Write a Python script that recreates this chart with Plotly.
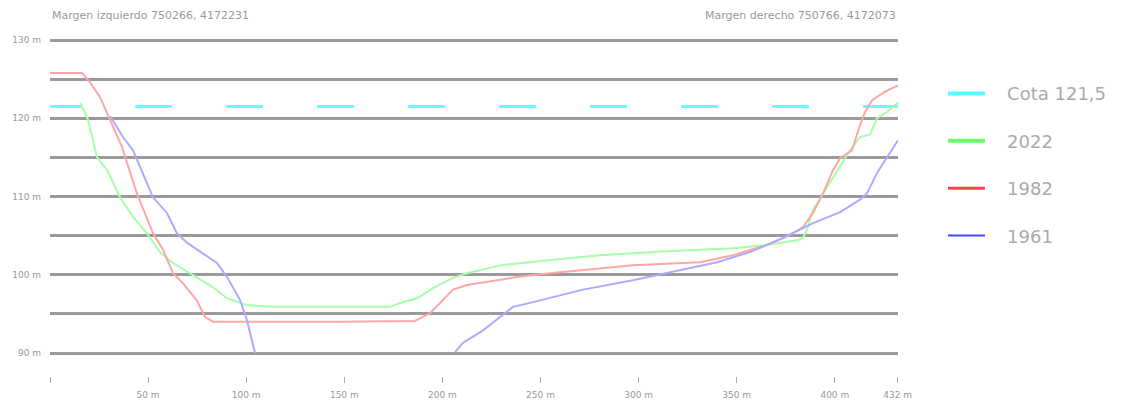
import plotly.graph_objects as go

# Cross-section profile of the channel (distance in m, elevation in m)
dist_1982 = [0, 16.3, 20.4, 25.5, 30.6, 36.7, 44.3, 52.5, 57.6, 62.7, 67.8, 74.9, 79.0, 83.1,
             147.8, 186.0, 193.7, 205.4, 212.5, 238.0, 254.8, 297.1, 331.3, 348.1, 365.4,
             377.2, 383.8, 388.9, 394.0, 399.1, 402.7, 408.8, 412.8, 415.4, 419.0, 425.6, 432.2]
elev_1982 = [125.8, 125.8, 124.6, 122.7, 119.8, 116.3, 110.4, 105.3, 103.2, 100.2, 98.9, 96.7, 94.6, 94.0,
             94.0, 94.1, 95.1, 98.1, 98.7, 99.7, 100.2, 101.2, 101.6, 102.5, 103.8,
             105.1, 106.1, 107.9, 110.4, 113.4, 114.9, 115.9, 119.1, 120.8, 122.3, 123.4, 124.2]

dist_2022 = [15.3, 19.4, 24.0, 29.1, 35.7, 42.3, 49.4, 56.1, 62.7, 72.9, 83.1, 90.2, 100.4, 113.7,
             173.3, 178.4, 187.1, 195.2, 205.4, 212.5, 229.4, 254.8, 280.3, 314.5, 348.1,
             365.4, 380.7, 383.8, 385.8, 388.9, 395.0, 401.6, 407.7, 412.8, 417.9, 421.5, 426.6, 432.2]
elev_2022 = [122.0, 119.8, 115.0, 113.4, 109.9, 107.4, 105.3, 102.9, 101.5, 100.0, 98.4, 97.0, 96.1, 95.9,
             95.9, 96.4, 97.0, 98.3, 99.6, 100.2, 101.2, 101.9, 102.5, 103.0, 103.4,
             103.8, 104.4, 104.7, 105.7, 108.3, 110.8, 113.4, 115.9, 117.6, 117.9, 120.0, 120.8, 122.0]

# 1961 profile drops below the lower axis limit between ~105 m and ~206 m
dist_1961 = [30.6, 37.2, 42.3, 45.9, 52.5, 59.6, 64.7, 69.8, 80.0, 85.1, 90.2, 96.8, 100.4, 104.5,
             None,
             206.4, 210.5, 220.7, 236.0, 246.2, 271.7, 297.1, 314.5, 340.0, 356.8, 373.6,
             388.9, 402.7, 412.8, 416.4, 421.5, 426.6, 432.2]
elev_1961 = [120.3, 117.6, 115.9, 113.8, 109.9, 107.9, 105.3, 104.1, 102.3, 101.5, 99.7, 96.8, 94.2, 90.0,
             None,
             90.1, 91.3, 92.9, 95.9, 96.5, 98.1, 99.3, 100.2, 101.6, 102.9, 104.7,
             106.6, 108.0, 109.6, 110.4, 113.0, 115.0, 117.2]

cota_level = 121.5
cota_extent = [-3, 432.2]

x_ticks = [0, 50, 100, 150, 200, 250, 300, 350, 400, 432]
x_ticktext = ["", "50 m", "100 m", "150 m", "200 m", "250 m", "300 m", "350 m", "400 m", "432 m"]
y_ticks = [90, 95, 100, 105, 110, 115, 120, 125, 130]
y_ticktext = ["90 m", "", "100 m", "", "110 m", "", "120 m", "", "130 m"]

series = [
    ("Cota 121,5", "#66ffff", "#55ffff", 4, [cota_extent, [cota_level, cota_level]], "37px,54px", 3),
    ("2022", "#a6ffa6", "#66ff66", 4, [dist_2022, elev_2022], "solid", 2),
    ("1982", "#ffa6a6", "#ff4444", 3, [dist_1982, elev_1982], "solid", 2),
    ("1961", "#acacff", "#4444ff", 2, [dist_1961, elev_1961], "solid", 2),
]

# Legend labels are padded so the text sits clear of the sample line
pad = "\u00a0\u00a0\u00a0"

fig = go.Figure()
for name, plot_col, leg_col, leg_w, (xs, ys), dash, w in series:
    fig.add_trace(go.Scatter(
        x=xs, y=ys, mode="lines", name=name, legendgroup=name, showlegend=False,
        line=dict(color=plot_col, width=w, dash=dash), connectgaps=False,
        hoverinfo="skip"))
    fig.add_trace(go.Scatter(
        x=[None], y=[None], mode="lines", name=pad + name, legendgroup=name,
        line=dict(color=leg_col, width=leg_w)))

fig.update_layout(
    width=1124, height=400,
    margin=dict(l=50, r=226, t=38, b=24, autoexpand=False),
    paper_bgcolor="white", plot_bgcolor="white",
    font=dict(family="DejaVu Sans", color="#999999"),
    showlegend=True,
    legend=dict(
        x=1.053, y=0.89, xanchor="left", yanchor="top",
        font=dict(size=18, color="#aaaaaa"),
        tracegroupgap=21, itemwidth=37, bgcolor="rgba(0,0,0,0)",
    ),
    xaxis=dict(
        range=[0, 432.2], showgrid=False, zeroline=False, showline=False,
        automargin=False,
        tickmode="array", tickvals=x_ticks, ticktext=x_ticktext,
        ticks="outside", ticklen=6, tickwidth=1, tickcolor="#aaaaaa",
        tickfont=dict(size=9, color="#999999"), ticklabelstandoff=4,
    ),
    yaxis=dict(
        range=[87.06, 130.26], showgrid=True, gridcolor="#9a9a9a", gridwidth=2.5,
        zeroline=False, showline=False, automargin=False,
        tickmode="array", tickvals=y_ticks, ticktext=y_ticktext,
        ticks="", tickfont=dict(size=9, color="#999999"), ticklabelstandoff=8,
    ),
    annotations=[
        dict(text="Margen izquierdo 750266, 4172231", xref="paper", yref="paper",
             x=0, y=1.0, xanchor="left", yanchor="bottom", yshift=14, showarrow=False,
             font=dict(size=11, color="#999999")),
        dict(text="Margen derecho 750766, 4172073", xref="paper", yref="paper",
             x=1, y=1.0, xanchor="right", yanchor="bottom", yshift=14, showarrow=False,
             font=dict(size=11, color="#999999")),
    ],
)

fig.write_html("out.html")
